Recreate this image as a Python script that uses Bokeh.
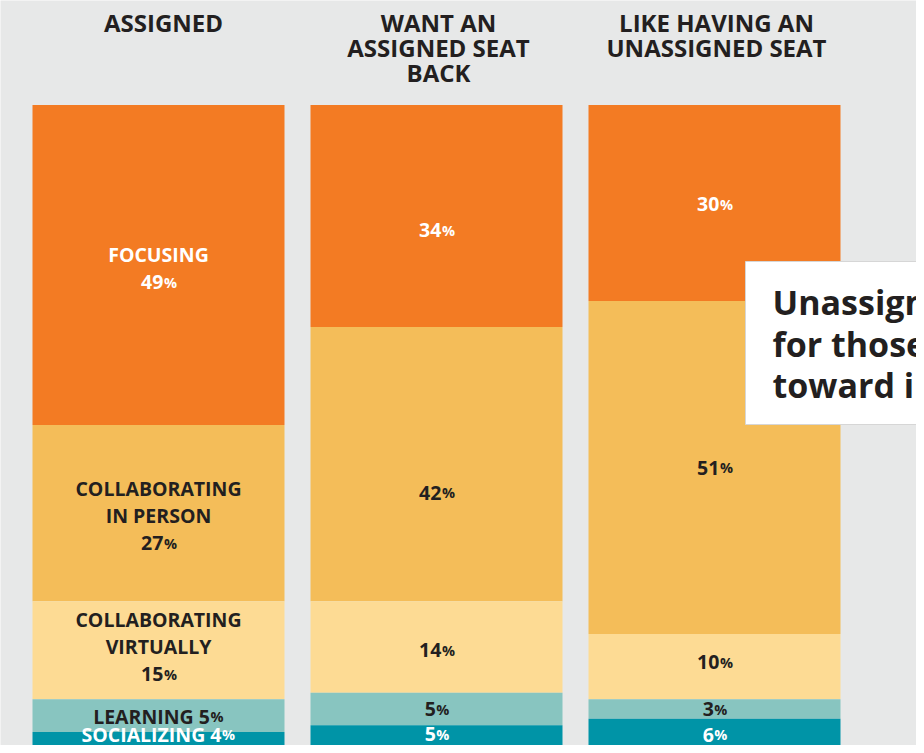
from bokeh.plotting import figure
from bokeh.models import Range1d, ColumnDataSource
from bokeh.embed import file_html
from bokeh.resources import INLINE
from bokeh.core.properties import value
import numpy as np

# ---------------- data ----------------
groups = ["ASSIGNED", "WANT AN\nASSIGNED SEAT\nBACK", "LIKE HAVING AN\nUNASSIGNED SEAT"]
activities = ["FOCUSING", "COLLABORATING\nIN PERSON", "COLLABORATING\nVIRTUALLY", "LEARNING", "SOCIALIZING"]
focusing = [49, 34, 30]
collab_person = [27, 42, 51]
collab_virtual = [15, 14, 10]
learning = [5, 5, 3]
socializing = [4, 5, 6]
callout_lines = ["Unassigned", "for those", "toward in-person"]

# ---------------- style ----------------
BG = "#E7E8E8"
DARK = "#231F20"
seg_colors = ["#F37B23", "#F4BD59", "#FDDB94", "#88C5C0", "#0094A7"]
seg_text_colors = ["white", DARK, DARK, DARK, "white"]
inline_label = [False, False, False, True, True]   # name and value on one line
label_nudge_px = [[4, 3, -3, 1, -9.5], [15, 29, 4, 1, -7], [2, 1, -4, 1, -3]]
FONT = "Open Sans"
LAB_FS = 19.5
PCT_FS = 14.5
HEAD_FS = 24.0
CALL_FS = 34.0
BASE_FIX = 0.385   # bokeh places the alphabetic baseline ~0.385em below y

W, H = 916, 745
PX = 6.53          # pixels per percentage point
TOP_PAGE = 104.5   # canvas y of 100%
UNIT = 278.0       # pixels between bar centres
C0 = 158.0         # canvas x of first bar centre
BAR_W = 252.0 / UNIT

CW = {" ": .26, "A": .68, "B": .68, "C": .63, "D": .74, "E": .56, "F": .54, "G": .72,
      "H": .76, "I": .33, "L": .53, "N": .80, "O": .79, "P": .64, "R": .66, "S": .56,
      "T": .58, "U": .75, "V": .66, "Y": .62, "Z": .57}


def est_w(s, fs):
    return sum(CW.get(ch, .572) for ch in s) * fs


def ydat(py):
    return 100 - (py - TOP_PAGE) / PX


def xdat(px):
    return (px - C0) / UNIT


def base(py, fs):
    """data y that puts the alphabetic baseline at canvas y py"""
    return ydat(py - BASE_FIX * fs)


p = figure(width=W, height=H, output_backend="svg", toolbar_location=None,
           x_range=Range1d(xdat(0), xdat(W)), y_range=Range1d(ydat(H), ydat(0)),
           min_border=0, min_border_left=0, min_border_right=0,
           min_border_top=0, min_border_bottom=0)
p.background_fill_color = BG
p.border_fill_color = BG
p.outline_line_color = None
p.axis.visible = False
p.grid.visible = False

series = [focusing, collab_person, collab_virtual, learning, socializing]
vals = np.array(series, dtype=float)            # shape (5 segments, 3 groups)
tops = 100 - np.vstack([np.zeros(3), np.cumsum(vals, axis=0)[:-1]])
bottoms = tops - vals
xs = np.arange(len(groups))

for k in range(len(series)):
    src = ColumnDataSource(dict(x=xs, top=tops[k], bottom=bottoms[k]))
    p.vbar(x="x", width=BAR_W, top="top", bottom="bottom", source=src,
           fill_color=seg_colors[k], line_color=None)

# segment labels
c_x, c_y, c_t, c_c = [], [], [], []      # centred lines
r_x, r_y, r_t, r_c = [], [], [], []      # right-aligned number parts
q_x, q_y, q_c = [], [], []               # small percent signs
LINE_SP = 27.5
CAP = 0.714 * LAB_FS
for g in range(len(groups)):
    for k in range(len(series)):
        num = f"{int(vals[k, g])}"
        if g == 0:
            if inline_label[k]:
                lines = [activities[k] + " " + num + "%"]
            else:
                lines = activities[k].split("\n") + [num + "%"]
        else:
            lines = [num + "%"]
        centre_px = (100 - (tops[k, g] + bottoms[k, g]) / 2) * PX + TOP_PAGE + label_nudge_px[g][k]
        n = len(lines)
        for i, ln in enumerate(lines):
            cy = centre_px + (i - (n - 1) / 2) * LINE_SP
            yb = base(cy + CAP / 2, LAB_FS)
            if ln.endswith("%"):
                head = ln[:-1]
                jx = (est_w(head, LAB_FS) - 0.86 * PCT_FS) / 2
                r_x.append(xs[g] + jx / UNIT); r_y.append(yb); r_t.append(head)
                r_c.append(seg_text_colors[k])
                q_x.append(xs[g] + (jx + 0.5) / UNIT); q_y.append(yb); q_c.append(seg_text_colors[k])
            else:
                c_x.append(xs[g]); c_y.append(yb); c_t.append(ln); c_c.append(seg_text_colors[k])

common = dict(text_font=value(FONT), text_font_style="bold", text_baseline="alphabetic")
p.text(x=c_x, y=c_y, text=c_t, text_color=c_c, text_font_size=f"{LAB_FS}px",
       text_align="center", **common)
p.text(x=r_x, y=r_y, text=r_t, text_color=r_c, text_font_size=f"{LAB_FS}px",
       text_align="right", **common)
p.text(x=q_x, y=q_y, text=["%"] * len(q_x), text_color=q_c, text_font_size=f"{PCT_FS}px",
       text_align="left", **common)

# group headers
hx, hy, ht = [], [], []
for g, name in enumerate(groups):
    for i, ln in enumerate(name.split("\n")):
        hx.append(xs[g] + (5 / UNIT if g == 0 else 2 / UNIT))
        hy.append(base(31.7 + 25 * i, HEAD_FS))
        ht.append(ln)
p.text(x=hx, y=hy, text=ht, text_color=DARK, text_font_size=f"{HEAD_FS}px",
       text_align="center", **common)

# callout box
p.quad(left=[xdat(745)], right=[xdat(W + 20)], top=[ydat(261)], bottom=[ydat(424)],
       fill_color="white", line_color="#D6D6D6", line_width=1)
p.text(x=[xdat(772)] * 3, y=[base(315, CALL_FS), base(357, CALL_FS), base(398, CALL_FS)],
       text=callout_lines, text_color=DARK, text_font_size=f"{CALL_FS}px",
       text_align="left", **common)

open("out.html", "w").write(file_html(p, INLINE))
